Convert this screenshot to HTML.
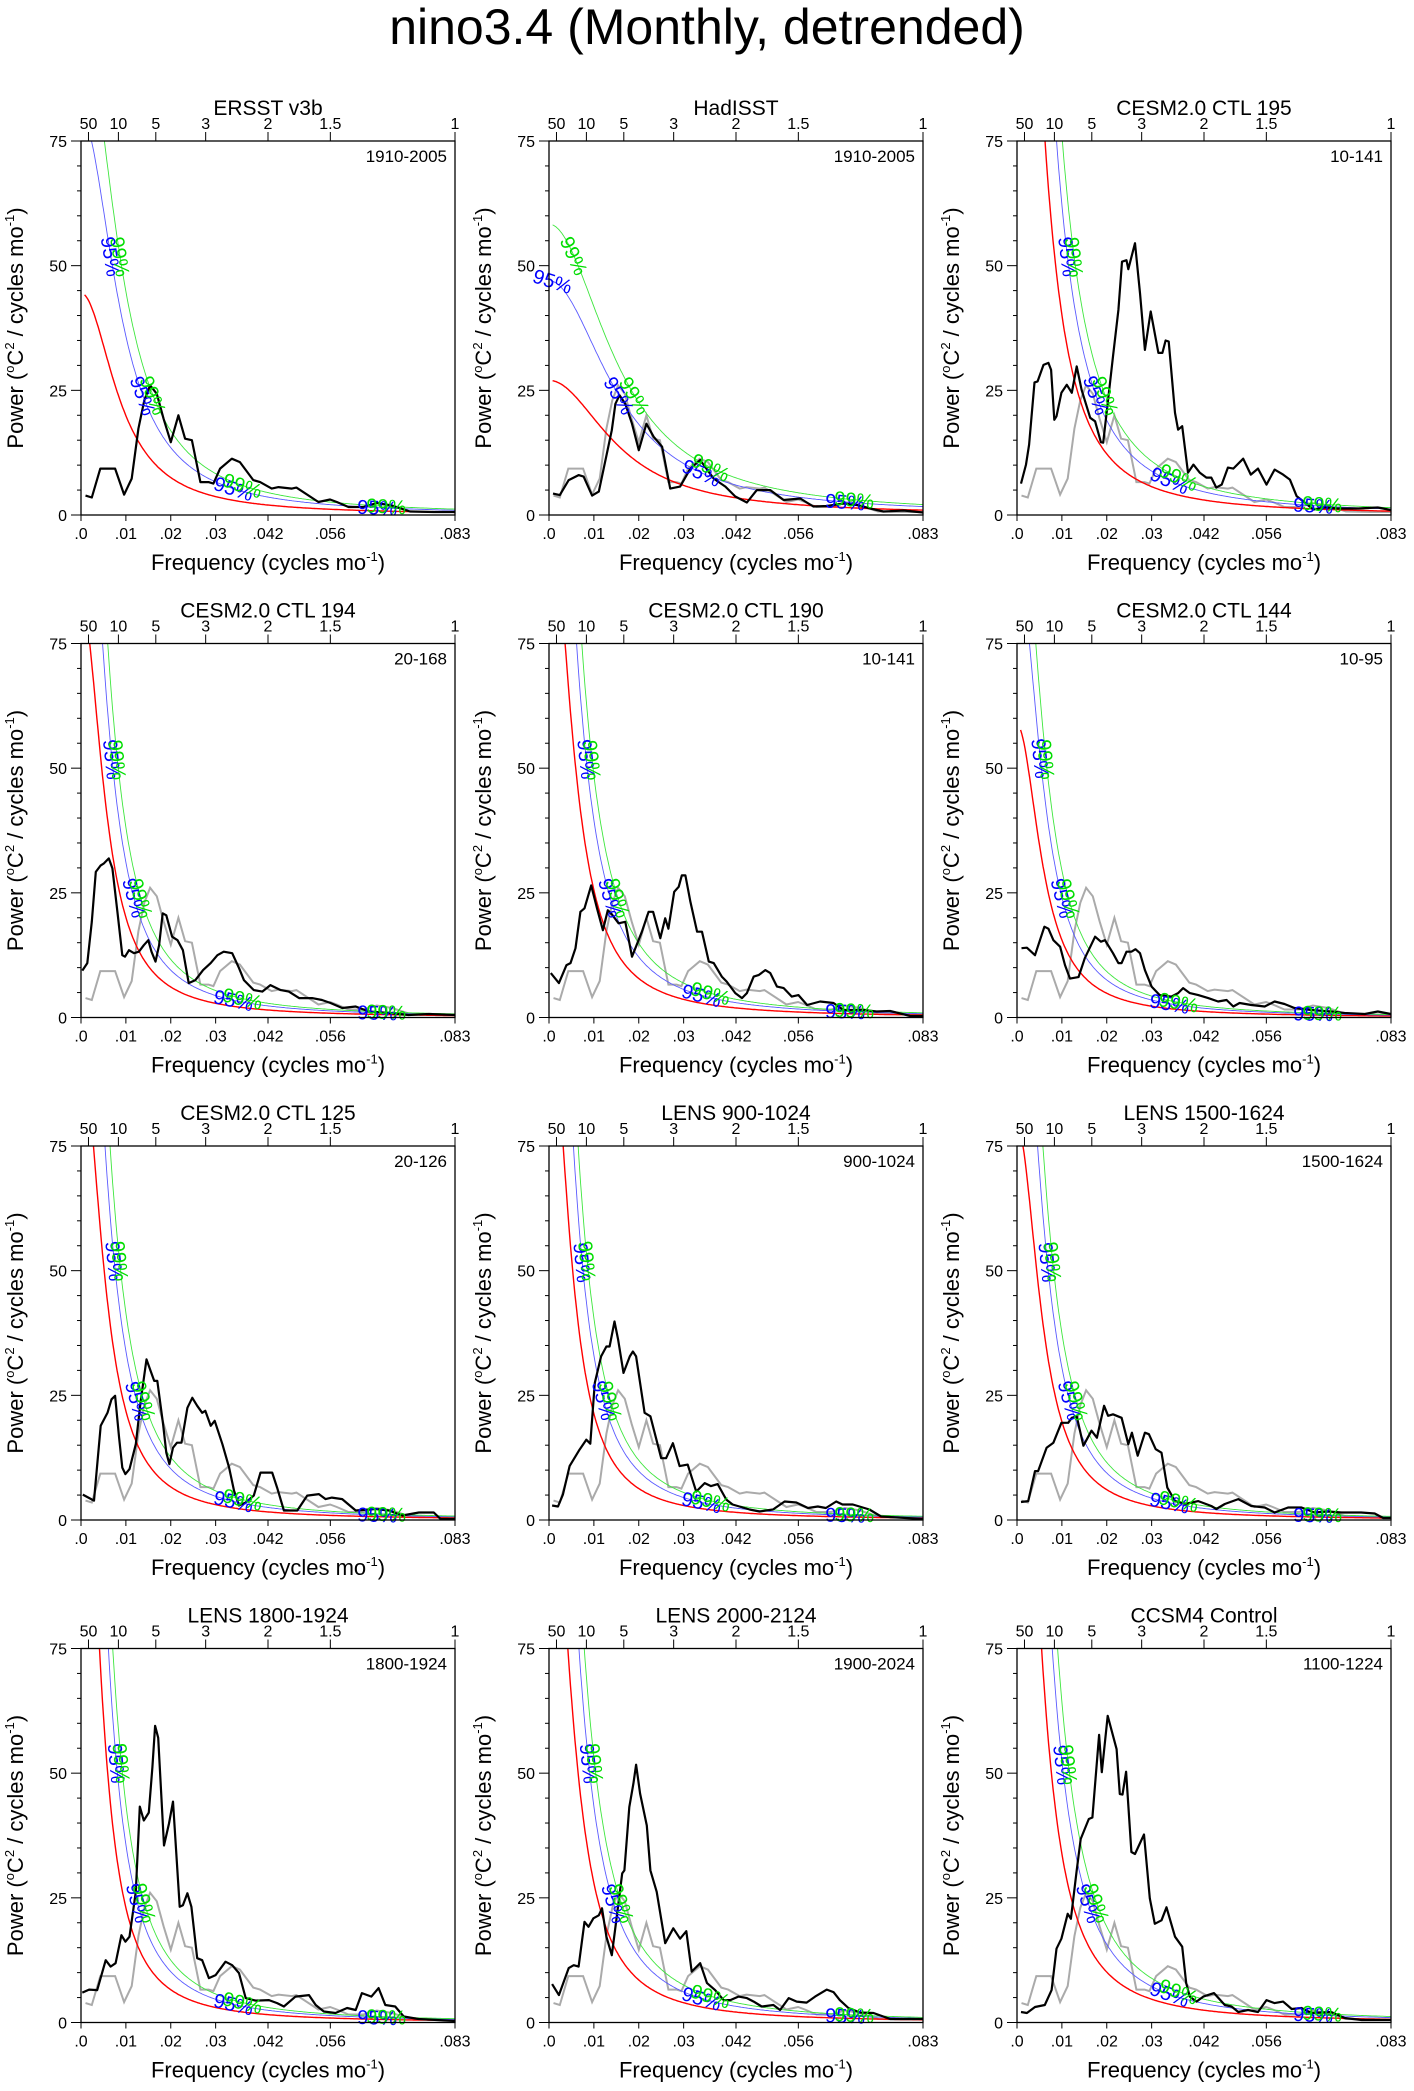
<!DOCTYPE html>
<html><head><meta charset="utf-8"><title>nino3.4 spectra</title>
<style>
html,body{margin:0;padding:0;background:#fff;}
svg{display:block;font-family:"Liberation Sans",Arial,sans-serif;}
</style></head>
<body>
<svg id="fig" width="1414" height="2091" viewBox="0 0 1414 2091" xmlns="http://www.w3.org/2000/svg">
<text x="707" y="44" font-size="50" text-anchor="middle">nino3.4 (Monthly, detrended)</text>
</svg>
<script>
// ---- shared axis data ----
const bottomTickValues=[0,10,20,30,41.667,55.556,83.333];
const bottomTickLabels=[".0",".01",".02",".03",".042",".056",".083"];
const topTickPeriods=[50,10,5,3,2,1.5,1];
const topTickLabels=["50","10","5","3","2","1.5","1"];
const yTickValues=[0,25,50,75];
// panel metadata
const panelTitles=["ERSST v3b","HadISST","CESM2.0 CTL 195","CESM2.0 CTL 194","CESM2.0 CTL 190","CESM2.0 CTL 144","CESM2.0 CTL 125","LENS 900-1024","LENS 1500-1624","LENS 1800-1924","LENS 2000-2124","CCSM4 Control"];
const panelRanges=["1910-2005","1910-2005","10-141","20-168","10-141","10-95","20-126","900-1024","1500-1624","1800-1924","1900-2024","1100-1224"];
// red-noise parameters (lag-1 autocorrelation, zero-frequency power) and significance ratios
const redR=[0.945,0.905,0.9654,0.9654,0.965,0.963,0.966,0.9686,0.9644,0.9724,0.9654,0.9676];
const redS0=[44.5,27,168,84,105,58.7,94,104,79,139,117,157];
const ratio95=[1.8,1.74,1.55,1.55,1.55,1.55,1.55,1.55,1.55,1.55,1.55,1.55];
const ratio99=[2.25,2.16,1.9,1.9,1.9,1.9,1.9,1.9,1.9,1.9,1.9,1.9];
// spectra: frequency in 1e-3 cycles/mo, power
const ersstF=[1.0,2.4,4.3,7.6,9.6,11.3,12.8,14.1,15.4,16.9,18.4,20,21.7,23.2,24.7,26.6,28.4,29.5,31,33.6,35.4,38.4,39.9,42.5,44,47,48,52.9,55.5,57,59.6,62.9,65.9,69.3,73.3,78.6,83.3];
const ersstP=[3.9,3.5,9.3,9.3,4.1,7.3,17.3,23,26,24.3,19.3,14.6,20,15.3,15,6.6,6.6,6.3,9.3,11.3,10.6,7,6.6,5.3,5.6,5.3,5.5,2.6,3.1,2.6,1.6,1.6,2.4,1.9,0.7,0.6,0.6];
const hadF=[0.9,2.4,4.4,6.6,7.7,9.6,11.1,14,14.8,15.7,17,18.5,20,21.7,23.3,25.2,27,29.2,31.5,33.7,36.7,39.3,41.5,44.1,46.3,49.3,52.3,56,58.9,61.9,65.6,68.6,71.6,74.5,79,83.3];
const hadP=[4.3,4,7,8,7.7,3.9,4.7,17,22.3,24,22.3,18.3,13,18.3,15.7,13.7,5.3,5.7,9.3,11,7.3,5.7,3.7,2.5,5,5,3,3.3,1.7,1.8,2.3,2,1.3,0.7,0.9,0.5];
const c195F=[0.9,2,2.7,3.9,4.6,5.9,7,7.6,8.3,8.8,9.9,11.1,12.2,13.3,14.4,16.3,17.4,18.7,19.2,20.3,21.4,22.6,23.4,24.4,24.8,26.3,27.4,28.5,29.8,31.5,32.4,33.1,33.8,35.2,35.9,36.8,38.1,39.3,40.7,42.2,43.3,44.4,45.6,47,48.2,50.4,52.1,53.7,55.6,57.4,59.3,60.8,62.3,64.1,66,68.6,71.5,76,80.4,83.3];
const c195P=[6.3,10.1,14.1,26.6,26.8,30.1,30.5,29.1,19.1,19.8,24.5,26.1,24.5,29.8,25.1,19.5,18.8,14.6,14.5,23.1,31.8,41.1,50.8,51.1,49.3,54.5,44.5,33.1,40.8,32.5,32.5,35,34.8,20.5,17.1,17.8,8.5,10.1,8.5,7.5,7.5,5.5,6.1,9.5,9.3,11.3,8.1,9.3,6.1,9.1,8.1,7.1,3.8,2.5,1.1,1.5,1.3,1.3,1.5,1];
const c194F=[0.3,1.4,2.4,3.3,4.4,5.1,6.2,7,8.1,9.2,9.8,10.7,11.8,12.9,14,15,15.7,16.6,17.4,18.2,19,20.3,21.5,22.7,24,25.5,27.2,28.9,30.4,31.8,33.7,35.2,36.3,38.5,40.4,42.2,44.5,46.3,48.6,51.5,53.7,55.6,58.2,61.2,64.1,68.6,73,77.5,83.3];
const c194P=[9.4,10.9,19.2,29.2,30.5,30.9,31.9,29.9,21.2,12.5,12.2,13.5,12.9,13.2,14.5,15.5,13.2,11.2,14.5,20.9,20.5,16.2,15.5,13.5,6.9,7.5,9.5,10.9,12.5,13.2,12.9,9.9,7.5,5.5,5.2,6.5,5.5,5.2,3.9,3.9,3.5,2.9,1.9,2.2,1.2,0.9,0.5,0.7,0.5];
const c190F=[0.4,2.2,3.9,4.8,5.9,7,7.9,9.4,10.7,12,13.1,14,15.5,17,18.5,20.7,22.2,23.2,24.8,25.9,26.6,27.9,28.9,29.6,30.4,31.5,33,34.1,35.6,36.7,38.5,39.6,41.5,43,44.1,45.6,46.7,48.2,49.3,50.8,52.3,54.1,55.6,57.5,60.4,63.4,65.6,70.1,73,76,80.5,83.3];
const c190P=[8.9,6.9,10.5,10.9,13.9,21.2,21.9,26.5,21.9,17.5,21.5,20.7,18.9,19.2,12.2,17.2,21.2,21.2,15.9,19.9,17.8,25.2,26.2,28.5,28.5,23.2,17.2,17.2,11.2,10.9,8.2,7.2,4.9,3.9,4.9,8.2,8.5,9.5,8.9,6.2,5.9,4.2,4.5,2.5,3.2,2.9,1.5,1.5,1.2,1.3,0.3,0.3];
const c144F=[1,2.2,4,6.1,7,8.1,9.6,10.7,11.8,13.7,15.1,17.4,18.7,19.6,21.4,22.6,23.3,24.4,25.5,26.4,27.4,28.5,30,31.8,34.4,35.9,37,38.5,40.4,42.6,44.8,46.7,48.2,49.6,52.2,55.2,57.4,59.6,61.8,65.6,70,73,77.5,80.4,83.3];
const c144P=[13.9,14,12.5,18.2,17.8,15.5,14.2,10.5,7.8,8.1,11.9,16.2,15.2,15.5,12.9,10.9,10.9,13.2,13.2,13.7,12.9,9.5,6.2,4.5,4.2,4.9,5.9,4.9,4.5,3.9,3.2,3.5,2.2,2.9,2.5,2.2,3.2,2.7,1.9,1.5,1.2,0.9,0.7,1.2,0.7];
const c125F=[0.4,2.9,4.4,5.9,6.8,7.6,8.5,9.2,9.9,10.8,12.2,13.3,14.6,15.5,16.3,17,18.3,19,19.7,20.5,21.4,22.4,23.7,24.8,25.9,27,27.7,28.9,29.8,31.5,33,34.1,35.2,36.7,38.5,40,41.5,42.6,43.7,45.2,48.2,50.4,53,54.5,55.9,58.2,61.2,65.6,68.6,71.6,75.3,78.6,80.1,83.3];
const c125P=[5.1,3.9,18.9,21.5,24.2,24.9,16.5,10.5,9.2,10.2,15.2,23.9,32.2,29.9,27.9,27.9,19.2,13.5,11.2,14.5,15.5,15.5,22.5,24.5,22.9,21.5,21.9,18.9,19.9,15.2,10.5,5.9,2.9,3.5,4.9,9.5,9.5,9.5,6.5,1.9,1.9,4.9,5.2,4.2,4.5,4.2,1.9,2.2,1.9,0.9,1.5,1.5,0.2,0.2];
const l900F=[0.7,2,3.1,4.6,6.8,8.3,9.2,10.2,11.6,12.8,13.5,14.6,15.4,16.6,18,18.7,19.4,21.3,22.6,25,26.1,27.6,29.1,30.9,32.8,34.7,36.1,37.6,39.5,40.9,44.7,46.9,49.9,52.5,55.1,57.7,59.9,61.7,64,65.4,67.7,71.4,74,83.3];
const l900P=[2.9,2.7,5.1,10.8,14.1,16.1,15.3,27.5,32.8,34.8,34.8,39.8,36.2,29.5,32.8,33.8,32.8,21.5,20.8,12.4,12.4,15.4,10.8,11.1,5.7,7.4,6.8,7.2,4.1,3.1,2.1,1.7,2.1,3.7,3.5,2.4,2.7,2.4,3.7,3.1,3.1,2.1,0.7,0.2];
const l1500F=[0.9,2.5,4,4.7,6.6,8.1,9.9,11.4,12.2,13.3,14.8,16.6,17.8,19.4,20.3,21.4,23.3,24.8,25.6,26.9,28.5,29.4,30.9,32.2,33.5,35.2,37.4,40.4,43.3,44.4,46.3,49.3,52.2,55.2,57.4,60.4,63.4,66.3,69.3,72.3,76.7,79.7,81.6,83.3];
const l1500P=[3.6,3.8,9.8,9.8,14.5,15.5,19.5,19.5,20.5,20.8,14.9,17.9,16.5,22.9,20.9,21.2,20.5,15.2,17.5,12.9,17.5,17.2,14.2,13.5,6.5,3.8,3.2,3.8,2.8,2.2,3.2,4.2,2.8,2.5,1.5,2.5,2.5,1.5,1.7,1.5,1.5,1.3,0.4,0.4];
const l1800F=[0.3,1.8,3.6,5.5,6.6,7.7,9,9.9,10.8,12.2,13.1,14,15.1,15.9,16.5,17.2,18.5,19.6,20.5,22,22.7,23.7,24.6,25.9,27,28.5,30,32.2,33.7,35.2,36.7,38.9,41.9,43.7,45.2,47.8,50.8,52.3,54.1,56.7,59.3,61.2,62.6,64.7,66.3,67.8,70,71.9,75.2,83.3];
const l1800P=[6,6.6,6.5,12.5,11.2,11.9,17.5,16.2,17.2,26.2,43.3,40.5,42.1,51.2,59.5,57.1,35.5,39.9,44.3,23.2,23.5,25.9,23.2,12.9,12.5,8.9,9.5,12.2,11.5,9.9,4.9,4.4,4.5,3.9,3.2,5.2,5.5,3.5,2.2,1.9,2.9,2.5,5.9,5.2,6.9,3.5,3.2,1.2,0.7,0.3];
const l2000F=[0.7,2.2,4.4,5.5,6.6,7.9,8.8,9.9,11.1,11.8,12.8,14,15,16.3,16.8,17.9,18.8,19.4,20.3,21.8,22.6,24,25.9,27.7,29.2,30.6,31.8,33.7,35.2,37,38.9,40.4,42.2,44.1,45.6,47.4,50,51.5,53.4,55.2,57.4,59.3,61.9,63.4,64.8,66.7,69.3,72.3,76,83.3];
const l2000P=[7.7,5.5,10.9,11.5,11.2,20.2,19.2,20.9,21.5,22.9,17.2,13.5,20.5,29.9,30.5,43.2,47.9,51.7,45.9,39.5,30.5,26.2,15.9,18.9,16.8,18.3,10.2,11.9,7.9,6.5,4.5,4.5,5.2,4.9,4.2,3.2,3.5,2.5,4.9,4.2,4,5.2,6.6,6.1,4.5,2.9,2,1.9,0.7,0.7];
const ccsmF=[0.9,2.2,4,6.2,7.7,8.8,9.9,11.3,12,13.3,14.2,16,16.8,18.3,18.9,20.2,22.2,22.9,23.5,24.3,25.5,26.3,28.3,29.6,30.7,32.2,33.3,35.2,36.8,37.7,38.5,40,41.5,43.9,46.3,47.8,49.3,51.5,53.7,55.6,57.4,59.3,61.2,63.4,65.6,70,73,76.8,83.3];
const ccsmP=[2.1,1.9,3.1,3.5,6.5,14.8,16.8,21.8,20.8,30.5,36.8,40.8,41.1,57.7,50.2,61.5,54.8,45.8,45.7,50.3,34.2,33.8,37.7,24.9,19.8,20.5,23.1,17.2,15.2,7.9,5.2,4.2,5.2,5.9,3.5,3.2,2.1,2.5,2.1,4.5,3.9,4.2,2.7,2.9,1.9,2.1,0.9,0.5,0.5];

const panelFreqs=[ersstF,hadF,c195F,c194F,c190F,c144F,c125F,l900F,l1500F,l1800F,l2000F,ccsmF];
const panelPowers=[ersstP,hadP,c195P,c194P,c190P,c144P,c125P,l900P,l1500P,l1800P,l2000P,ccsmP];

const NS="http://www.w3.org/2000/svg";
const svg=document.getElementById('fig');
const SIZE=374, FMAX=83.333, YMAX=75;
function mk(tag,attrs,parent){const e=document.createElementNS(NS,tag);for(const k in attrs)e.setAttribute(k,attrs[k]);(parent||svg).appendChild(e);return e;}

function redNoise(p,fK){const f=fK/1000,r=redR[p];return redS0[p]*(1-r)*(1-r)/(1-2*r*Math.cos(2*Math.PI*f)+r*r);}

for(let p=0;p<12;p++){
  const row=Math.floor(p/3), col=p%3;
  const x0=81+468*col, y0=141+502.5*row;
  const sx=fK=>x0+fK/FMAX*SIZE;
  const sy=v=>y0+SIZE-v/YMAX*SIZE;
  const g=mk('g',{});
  
  
  const clipId='clip'+p;
  const cp=mk('clipPath',{id:clipId},g);
  mk('rect',{x:x0,y:y0,width:SIZE,height:SIZE},cp);
  const plot=mk('g',{'clip-path':'url(#'+clipId+')'},g);
  
  

  if(p>0){
    let d='';ersstF.forEach((f,i)=>{d+=(i?'L':'M')+sx(f).toFixed(1)+','+sy(ersstP[i]).toFixed(1);});
    const gp=mk('path',{d:d,fill:'none',stroke:'#aaaaaa','stroke-width':2},plot);
    
    
  }
  const curves=[{m:1,c:'#ff0000',w:1.4,n:'red-noise-curve'},{m:ratio95[p],c:'#5a5aff',w:0.9,n:'significance-95-curve'},{m:ratio99[p],c:'#3ee63e',w:0.9,n:'significance-99-curve'}];
  curves.forEach(cv=>{
    let d='';for(let f=0.8,i=0;f<=FMAX+0.01;f+=0.25,i++){d+=(i?'L':'M')+sx(f).toFixed(1)+','+sy(Math.min(redNoise(p,f)*cv.m,90)).toFixed(1);}
    const e=mk('path',{d:d,fill:'none',stroke:cv.c,'stroke-width':cv.w},plot);
    
    
  });
  function findF(mult,target){for(let f=0.8;f<FMAX;f+=0.05){if(redNoise(p,f)*mult<=target)return f;}return 1;}
  function angleAt(mult,f){const dx=sx(f+0.3)-sx(f-0.3);const dy=sy(redNoise(p,f+0.3)*mult)-sy(redNoise(p,f-0.3)*mult);return Math.atan2(dy,dx)*180/Math.PI;}
  [[ratio95[p],'#0000ff','95%',0],[ratio99[p],'#00dd00','99%',1]].forEach(L=>{
    const spots=[findF(L[0],52),findF(L[0],24),34+L[3]*2,66+L[3]*2];
    spots.forEach(f=>{
      const x=sx(f), y=sy(redNoise(p,f)*L[0]);
      const a=angleAt(L[0],f);
      const t=mk('text',{x:x.toFixed(1),y:(y+7).toFixed(1),fill:L[1],'font-size':20,'text-anchor':'middle',transform:'rotate('+a.toFixed(1)+' '+x.toFixed(1)+' '+y.toFixed(1)+')'},g);
      t.textContent=L[2];
      
      
    });
  });
  {
    const F=panelFreqs[p], P=panelPowers[p];
    let d='';F.forEach((f,i)=>{d+=(i?'L':'M')+sx(f).toFixed(1)+','+sy(P[i]).toFixed(1);});
    const e=mk('path',{d:d,fill:'none',stroke:'#000','stroke-width':2.2,'stroke-linejoin':'round'},plot);
    
    
  }
  const fr=mk('rect',{x:x0,y:y0,width:SIZE,height:SIZE,fill:'none',stroke:'#000','stroke-width':1.3},g);
  
  
  for(let v=0;v<=75;v+=5){
    const maj=v%25===0;
    mk('line',{x1:x0,x2:x0-(maj?10:4),y1:sy(v),y2:sy(v),stroke:'#000','stroke-width':1},g);
  }
  yTickValues.forEach(v=>{
    const t=mk('text',{x:x0-14,y:sy(v)+6,'font-size':16,'text-anchor':'end'},g);
    t.textContent=String(v);
    
    
  });
  bottomTickValues.forEach((v,i)=>{
    mk('line',{x1:sx(v),x2:sx(v),y1:y0+SIZE,y2:y0+SIZE+6,stroke:'#000','stroke-width':1},g);
    const t=mk('text',{x:sx(v),y:y0+SIZE+24,'font-size':16,'text-anchor':'middle'},g);
    t.textContent=bottomTickLabels[i];
    
    
  });
  topTickPeriods.forEach((per,i)=>{
    const fK=1000/(12*per);
    mk('line',{x1:sx(fK),x2:sx(fK),y1:y0,y2:y0-9,stroke:'#000','stroke-width':1},g);
    const t=mk('text',{x:sx(fK),y:y0-12,'font-size':16,'text-anchor':'middle'},g);
    t.textContent=topTickLabels[i];
    
    
  });
  const tt=mk('text',{x:x0+SIZE/2,y:y0-26,'font-size':21,'text-anchor':'middle'},g);
  tt.textContent=panelTitles[p];
  
  
  const rg=mk('text',{x:x0+SIZE-8,y:y0+21,'font-size':17,'text-anchor':'end'},g);
  rg.textContent=panelRanges[p];
  
  
  const xt=mk('text',{x:x0+SIZE/2,y:y0+SIZE+55,'font-size':22,'text-anchor':'middle'},g);
  xt.innerHTML='Frequency (cycles mo<tspan font-size="13" dy="-9">-1</tspan><tspan dy="9">)</tspan>';
  
  
  const yx=x0-58, yy=y0+SIZE/2;
  const yt=mk('text',{x:yx,y:yy,'font-size':22,'text-anchor':'middle',transform:'rotate(-90 '+yx+' '+yy+')'},g);
  yt.innerHTML='Power (<tspan font-size="13" dy="-9">o</tspan><tspan dy="9">C</tspan><tspan font-size="13" dy="-9">2</tspan><tspan dy="9"> / cycles mo</tspan><tspan font-size="13" dy="-9">-1</tspan><tspan dy="9">)</tspan>';
  
  
}
</script>
</body></html>
